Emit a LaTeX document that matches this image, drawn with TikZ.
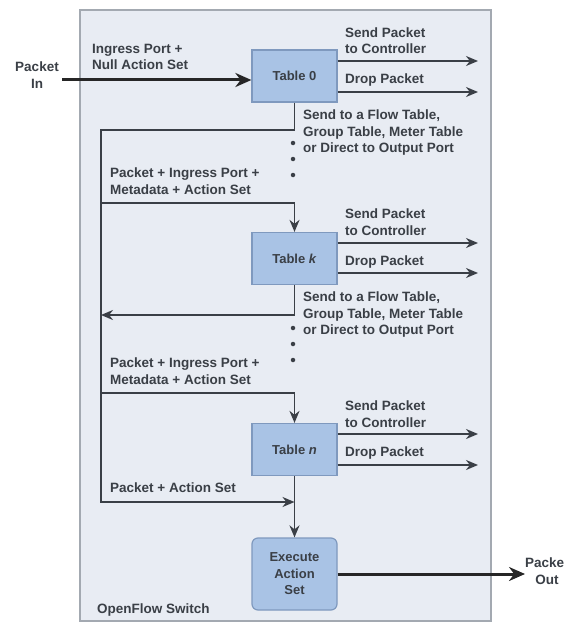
\documentclass[tikz,border=0pt]{standalone}
\usepackage{fontspec}
\setmainfont{Liberation Sans}
\usetikzlibrary{arrows.meta}
\definecolor{switchbg}{HTML}{E8ECF3}
\definecolor{switchline}{HTML}{A3A9B1}
\definecolor{tablefill}{HTML}{A9C3E5}
\definecolor{tableline}{HTML}{7F99BE}
\definecolor{flowline}{HTML}{3A3F46}
\tikzset{
  tablebox/.style={draw=tableline, fill=tablefill, line width=1.2pt, minimum width=85pt, minimum height=52pt,
    inner sep=1pt, font=\bfseries\fontsize{13}{16.5}\selectfont, text=flowline},
  lbl/.style={font=\bfseries\fontsize{13.5}{16.5}\selectfont, text=flowline, align=left, anchor=west, inner sep=0pt},
  flow/.style={draw=flowline, line width=1.8pt, -{Stealth[length=12pt,width=10pt]}},
  thickflow/.style={draw=black!85, line width=3pt, -{Stealth[length=16pt,width=14pt]}},
  dot/.style={fill=flowline, circle, inner sep=0pt, minimum size=4.5pt}
}
\begin{document}
\begin{tikzpicture}[x=1pt,y=-1pt]
  \useasboundingbox (0,0) rectangle (563,623);
  % switch frame
  \draw[draw=switchline, fill=switchbg, line width=1.5pt] (80,10) rectangle (491,621);
  \node[lbl] (swname) at (97,610) {OpenFlow Switch};

  % tables
  \node[tablebox] (t0) at (294.5,76) {Table 0};
  \node[tablebox] (tk) at (294.5,258.5) {Table \textit{k}};
  \node[tablebox] (tn) at (294.5,449.5) {Table \textit{n}};
  \node[tablebox, rounded corners=6pt, minimum height=72pt, align=center] (exec) at (294.5,574) {Execute\\Action\\Set};

  % packet in
  \node[lbl, anchor=center, align=center] (pin) at (37,75) {Packet\\In};
  \coordinate (inpt) at (62,80);
  \draw[thickflow] (inpt) -- (inpt -| t0.west);
  \node[lbl] (nullset) at (92,57) {Ingress Port +\\Null Action Set};

  % outputs of table 0
  \coordinate (r0a) at (478,61);
  \coordinate (r0b) at (478,92);
  \draw[flow] (r0a -| t0.east) -- (r0a);
  \draw[flow] (r0b -| t0.east) -- (r0b);
  \node[lbl] (ctl0) at (345,40.5) {Send Packet\\to Controller};
  \node[lbl] (drop0) at (345,80) {Drop Packet};
  \node[lbl] (goto0) at (303,133) {Send to a Flow Table,\\Group Table, Meter Table\\or Direct to Output Port};
  \node[dot] (d01) at (293,143) {};
  \node[dot] (d02) at (293,159) {};
  \node[dot] (d03) at (293,175) {};

  % outputs of table k
  \coordinate (rka) at (478,243);
  \coordinate (rkb) at (478,273);
  \draw[flow] (rka -| tk.east) -- (rka);
  \draw[flow] (rkb -| tk.east) -- (rkb);
  \node[lbl] (ctlk) at (345,222) {Send Packet\\to Controller};
  \node[lbl] (dropk) at (345,262) {Drop Packet};
  \node[lbl] (gotok) at (303,315) {Send to a Flow Table,\\Group Table, Meter Table\\or Direct to Output Port};
  \node[dot] (dk1) at (293,328) {};
  \node[dot] (dk2) at (293,344) {};
  \node[dot] (dk3) at (293,360) {};

  % outputs of table n
  \coordinate (rna) at (478,434);
  \coordinate (rnb) at (478,465);
  \draw[flow] (rna -| tn.east) -- (rna);
  \draw[flow] (rnb -| tn.east) -- (rnb);
  \node[lbl] (ctln) at (345,414) {Send Packet\\to Controller};
  \node[lbl] (dropn) at (345,453) {Drop Packet};

  % pipeline loop
  \coordinate (loopa) at (101,130);
  \coordinate (loopb) at (101,502);
  \coordinate (join) at (294.5,502);
  \draw[flow] (t0.south) |- (loopa) -- (loopb) -- (join);
  \coordinate (ka) at (101,203);
  \draw[flow] (ka) -| (tk.north);
  \coordinate (kb) at (101,315);
  \draw[flow] (tk.south) |- (kb);
  \coordinate (na) at (101,393);
  \draw[flow] (na) -| (tn.north);
  \draw[flow] (tn.south) -- (exec.north);
  \node[lbl] (meta0) at (110,181) {Packet + Ingress Port +\\Metadata + Action Set};
  \node[lbl] (metak) at (110,371) {Packet + Ingress Port +\\Metadata + Action Set};
  \node[lbl] (aset) at (110,488) {Packet + Action Set};

  % packet out
  \node[lbl, align=center] (pout) at (525,571) {Packet\\Out};
  \draw[thickflow] (exec.east) -- (exec.east -| pout.west);
\end{tikzpicture}
\end{document}
